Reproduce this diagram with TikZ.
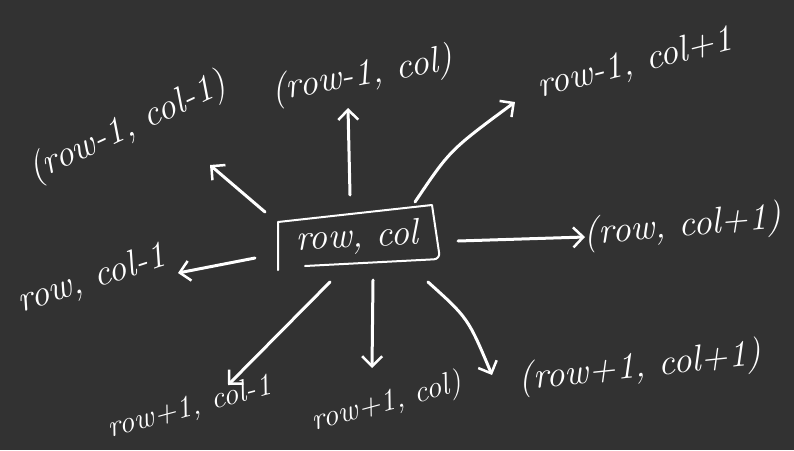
\documentclass[tikz,border=0pt]{standalone}
\usetikzlibrary{arrows.meta}
\definecolor{board}{RGB}{50,50,50}
\begin{document}
\begin{tikzpicture}[x=1pt,y=-1pt,
  chalk/.style={text=white,font=\fontsize{37}{42}\selectfont\itshape,inner sep=0pt},
  small/.style={font=\fontsize{31}{36}\selectfont\itshape},
  arr/.style={draw=white,line width=3pt,line cap=round,-{Straight Barb[length=10pt,width=20pt,line width=2.5pt]}},
  boxline/.style={draw=white,line width=2pt,line cap=round,line join=round}]
\fill[board] (0,0) rectangle (794,450);
\useasboundingbox (0,0) rectangle (794,450);
% centre box
\coordinate (b0) at (278,270);
\coordinate (b1) at (278,222);
\coordinate (b2) at (432,205);
\coordinate (b3) at (440,259);
\coordinate (b4) at (305,266);
\draw[boxline] (b0) -- (b1) -- (b2) [rounded corners=6pt] -- (b3) [sharp corners] -- (b4);
\node[chalk,rotate=3] (c) at (357,238) {row, col};
% labels
\node[chalk,rotate=25] (nw) at (128,128) {(row-1, col-1)};
\node[chalk,rotate=10] (n) at (362,76) {(row-1, col)};
\node[chalk,rotate=14] (ne) at (635,64) {row-1, col+1};
\node[chalk,rotate=5] (e) at (683,227) {(row, col+1)};
\node[chalk,rotate=18] (w) at (92,280) {row, col-1};
\node[chalk,small,rotate=15] (sw) at (190,408) {row+1, col-1};
\node[chalk,small,rotate=15] (s) at (387,403) {row+1, col)};
\node[chalk,rotate=6] (se) at (640,368) {(row+1, col+1)};
% arrow ends
\coordinate (a1s) at (265,212); \coordinate (a1e) at (210,165);
\coordinate (a2s) at (350,195); \coordinate (a2e) at (348,108);
\coordinate (a3s) at (415,202); \coordinate (a3c) at (450,150); \coordinate (a3e) at (515,102);
\coordinate (a4s) at (458,241); \coordinate (a4e) at (585,237);
\coordinate (a5s) at (255,258); \coordinate (a5e) at (178,273);
\coordinate (a6s) at (330,282); \coordinate (a6e) at (228,385);
\coordinate (a7s) at (373,280); \coordinate (a7e) at (372,368);
\coordinate (a8s) at (428,282); \coordinate (a8c) at (468,318); \coordinate (a8e) at (492,375);
\draw[arr] (a1s) -- (a1e);
\draw[arr] (a2s) -- (a2e);
\draw[arr] (a3s) .. controls (a3c) .. (a3e);
\draw[arr] (a4s) -- (a4e);
\draw[arr] (a5s) -- (a5e);
\draw[arr] (a6s) -- (a6e);
\draw[arr] (a7s) -- (a7e);
\draw[arr] (a8s) .. controls (a8c) .. (a8e);
\end{tikzpicture}
\end{document}
